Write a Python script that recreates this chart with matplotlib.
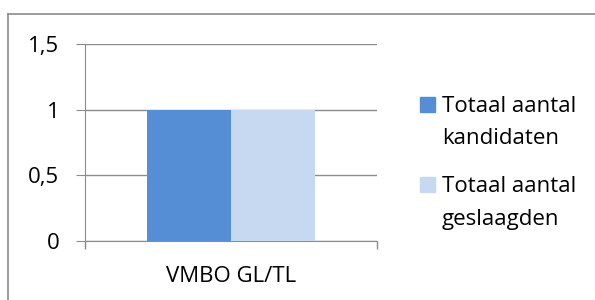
import matplotlib.pyplot as plt
from matplotlib.lines import Line2D
from matplotlib.patches import Rectangle

# Data
categories = ['VMBO GL/TL']
series_names = ['Totaal aantal\nkandidaten', 'Totaal aantal\ngeslaagden']
series_values = [[1], [1]]
colors = ['#558ED5', '#C6D9F1']
yticks = [0, 0.5, 1, 1.5]
ytick_labels = ['0', '0,5', '1', '1,5']

plt.rcParams['font.family'] = ['Open Sans', 'DejaVu Sans']
W, H = 595, 300
fs = 16
fig = plt.figure(figsize=(W / 100, H / 100), dpi=100)
grey = '#8C8C8C'

# outer chart border (only left and top visible)
fig.add_artist(Line2D([8 / W, 8 / W], [0, 1 - 14 / H], transform=fig.transFigure, color=grey, lw=1.2))
fig.add_artist(Line2D([8 / W, 1], [1 - 14 / H, 1 - 14 / H], transform=fig.transFigure, color=grey, lw=1.2))

ax = fig.add_axes([85 / W, 1 - 241 / H, 292 / W, 197 / H])
bw = 0.2877
n = len(series_values)
for i, (name, vals) in enumerate(zip(series_names, series_values)):
    xs = [c + (i - (n - 1) / 2) * bw for c in range(len(categories))]
    ax.bar(xs, vals, width=bw, color=colors[i], label=name, zorder=3)

ax.set_xlim(-0.5, len(categories) - 0.5)
ax.set_ylim(0, 1.5)
ax.set_yticks(yticks)
ax.set_yticklabels(ytick_labels, fontsize=fs)
ax.grid(axis='y', color=grey, lw=1.0, zorder=0)
for s in ['top', 'right']:
    ax.spines[s].set_visible(False)
ax.spines['left'].set_color(grey)
ax.spines['bottom'].set_color(grey)
ax.spines['left'].set_bounds(-0.04, 1.5)
ax.tick_params(axis='y', length=6.5, color=grey, pad=12)

# category boundary ticks on x axis
ax.set_xticks([-0.5 + k for k in range(len(categories) + 1)], minor=True)
ax.tick_params(axis='x', which='minor', length=6, color=grey, width=1)
ax.set_xticks(range(len(categories)))
ax.set_xticklabels(categories, fontsize=fs)
ax.tick_params(axis='x', which='major', length=0, pad=18)

# legend drawn by hand: square aligned with first text line (Excel style)
for i, name in enumerate(series_names):
    top = 97 + i * 80
    fig.add_artist(Rectangle((420 / W, 1 - (top + 15) / H), 15 / W, 15 / H,
                             transform=fig.transFigure, color=colors[i]))
    for j, line in enumerate(name.split('\n')):
        fig.text(442 / W, 1 - (top + 15 + j * 32.5) / H, line, fontsize=fs,
                 va='baseline', ha='left')

fig.savefig('out.png', dpi=100)
